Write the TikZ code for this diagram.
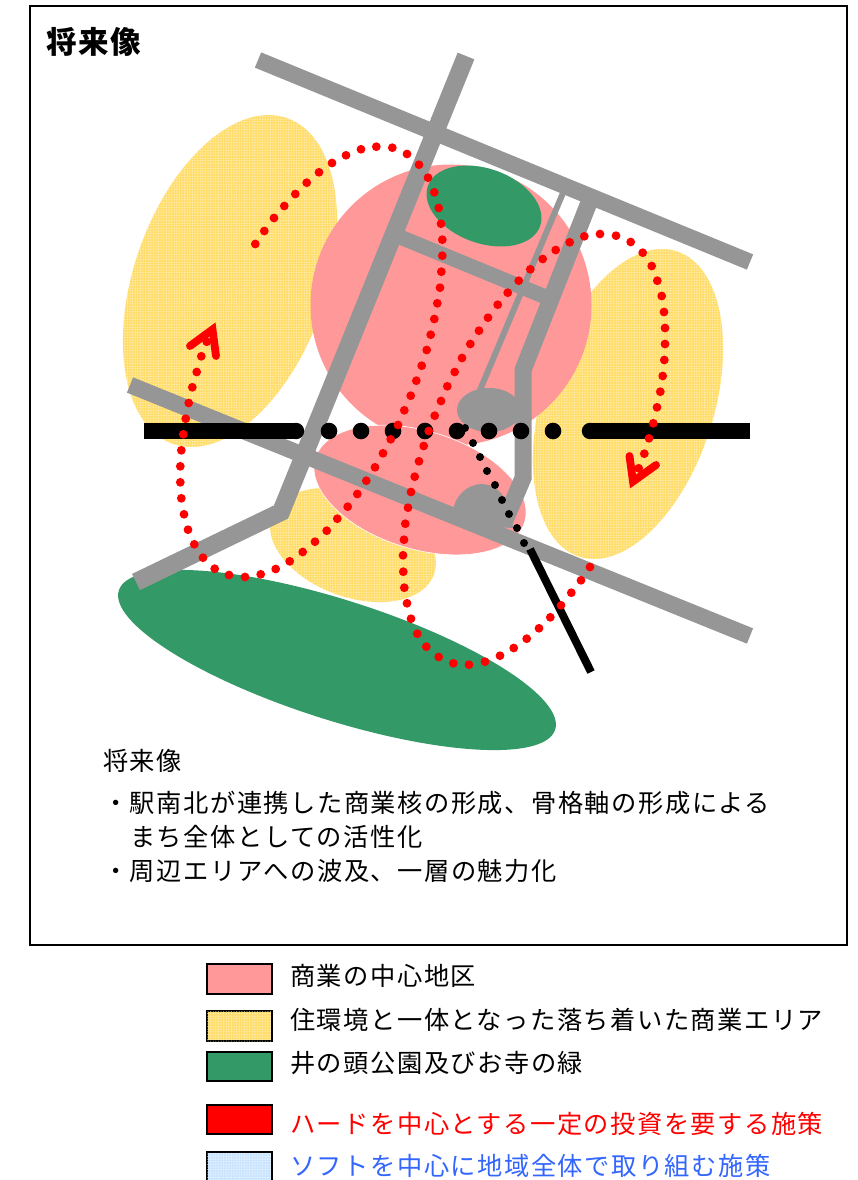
\documentclass[tikz,border=0pt]{standalone}
\usepackage{fontspec}
\setmainfont{Noto Sans CJK JP}[LetterSpace=6]
\usetikzlibrary{patterns.meta}
\definecolor{roadgray}{HTML}{969696}
\definecolor{pinkarea}{HTML}{FF9999}
\definecolor{greenarea}{HTML}{339966}
\definecolor{softblue}{HTML}{3366FF}
\definecolor{yellowbase}{HTML}{FFDD6E}
\definecolor{yellowdot}{HTML}{FFF3BF}
\definecolor{bluebase}{HTML}{CCE5FF}
\definecolor{bluedot}{HTML}{EEF6FF}
\tikzset{
  x=1pt,y=-1pt,
  road/.style={draw=roadgray,line width=#1,line join=miter,line cap=butt},
  road/.default=16pt,
  yellowfill/.style={fill=yellowbase,postaction={pattern={Dots[distance=2.6pt,radius=.7pt]},pattern color=yellowdot}},
  bluefill/.style={fill=bluebase,postaction={pattern={Dots[distance=2.6pt,radius=.7pt]},pattern color=bluedot}},
  legendbox/.style={draw=black,line width=2.2pt},
  txt/.style={anchor=west,inner sep=0pt,font=\fontsize{25.25}{25.25}\selectfont,text height=20pt,text depth=4pt},
  arrowbarb/.style={draw=red,line width=7.8pt,line cap=round,line join=miter,miter limit=10},
}
\begin{document}
\begin{tikzpicture}
\clip (0,0) rectangle (858,1180);
\fill[white] (0,0) rectangle (858,1180);
\draw[black,line width=2pt] (30,6) rectangle (847,945);
% areas
\path[yellowfill,rotate around={70.7:(230,281)}] (230,281) ellipse (172.6 and 96);
\path[yellowfill,rotate around={72.4:(628,404)}] (628,404) ellipse (160.3 and 85.8);
\path[yellowfill,rotate around={-20:(353,545)}] (353,545) ellipse (86.2 and 52);
\fill[pinkarea] (451,305) circle (140.5);
\filldraw[fill=pinkarea,draw=white,line width=.6pt,rotate around={-17:(420,490)}] (420,490) ellipse (109.4 and 59);
\fill[greenarea,rotate around={-17.7:(337,660)}] (337,660) ellipse (229 and 60);
\fill[greenarea,rotate around={-19.8:(484,206)}] (484,206) ellipse (59.6 and 37.3);
% station blobs
\fill[roadgray] (489,410) ellipse (32 and 22);
\fill[roadgray] (453,514) .. controls (453,497) and (467,484) .. (482,484) .. controls (497,484) and (510,497) .. (513,528) -- (480,526) -- cycle;
% roads
\draw[road=16.5pt] (258,60) -- (750,262);
\draw[road=16.5pt] (130,385) -- (750,636);
\draw[road=18pt] (466,56) -- (281,512) -- (136,582);
\draw[road=15pt] (400,237) -- (553,300);
\draw[road=17pt] (590,200) -- (523,370) -- (523,478) -- (503,525);
\draw[road=6pt] (563,193) -- (480,390);
% railway
\draw[black,line width=16.4pt] (144,431) -- (296,431);
\fill[black] (296,431) circle (8.2);
\draw[black,line width=16.4pt] (590,431) -- (750,431);
\fill[black] (590,431) circle (8.2);
\foreach \x in {329,361,393,425,457,489,521,553} \fill[black] (\x,431) circle (8.3);
\foreach \x/\y in {465/428,473/443,480/457,487/471,495/485,502/500,509/514,517/528,524/543} \fill[black] (\x,\y) circle (4);
\draw[black,line width=8pt] (530,549) -- (591,672);
% red dotted routes
\foreach \x/\y in {255.3/244,264.3/231,274/218,284.3/206,295.3/194,306.7/182.7,319/172.3,332/163,346/155.3,361/149.3,376.3/146.7,392.3/147.7,407/154,419/164.7,428/177.7,434.3/192.3,438.7/208,441/223.7,442.3/239.7,442.3/255.7,441.3/271.7,440/287.7,437.3/303.3,434.3/319,430.7/334.7,426.7/350,421.7/365.7,416.3/380.7,410.7/395.7,404.3/410.3,398/425,390.7/439.3,383/453.3,375/467.3,366.3/480.7,357.3/494,347.7/506.7,337.3/518.7,326.7/530.7,315/541.7,302.7/552,289.7/561.3,275.7/569,260.7/574.3,245/577,229/575,214.7/568.7,203/557.7,194.3/544.3,188/529.7,184/514.3,181.3/498.3,180.3/482.3,180.3/466.3,181.3/450.3,183.3/434.3,185.7/418.7,188.7/403,192.3/387.3,196.7/372,201.3/356.3,206.7/341.7}
  \fill[red] (\x,\y) circle (4.4);
\foreach \x/\y in {638.7/468.3,644.3/453.7,649/438.3,653.3/423.3,657/407.3,660.3/391.7,662.7/376,664.3/360,665/344,665/328,664/312,661.7/296,657.3/280.7,651.7/266,642.7/252.7,630.7/242,616/235.7,600/234,584.3/236.3,569.7/242.3,555.7/250,542.7/259,530.3/269.3,518.7/280.7,507.7/292.7,497.7/304.7,488/317.7,479/330.7,470.3/344,462/358,454.7/372,447.3/386.3,441/401,434.7/415.7,428.7/431,423.7/446,419/461.3,414.7/476.7,411/492,408/507.7,405.3/523.7,404/539.7,403/555.3,403.3/571.7,404.3/587.7,407/603.3,411/618.7,417.3/633.7,426.3/646.7,438.7/657,453.3/663.3,469/664.7,485/661.7,500/655.7,513.7/648,526.7/638.7,539/628.3,550.3/617.3,561/605.3,571.3/592.7,581/580.3,590/567}
  \fill[red] (\x,\y) circle (4.4);
\coordinate (a1) at (190,346);
\coordinate (a2) at (212.5,329.5);
\coordinate (a3) at (216,356);
\coordinate (b1) at (629.5,456);
\coordinate (b2) at (633,481.5);
\coordinate (b3) at (656,465);
\draw[arrowbarb] (a1) -- (a2) -- (a3);
\draw[arrowbarb] (b1) -- (b2) -- (b3);
% texts
\node[txt,font=\fontsize{30.5}{30.5}\selectfont\bfseries,text height=24pt,text depth=5pt] (title) at (46,44) {将来像};
\node[txt] (t1) at (103,762) {将来像};
\node[txt] (t2) at (103,804) {・駅南北が連携した商業核の形成、骨格軸の形成による};
\node[txt] (t3) at (130,838) {まち全体としての活性化};
\node[txt] (t4) at (103,872) {・周辺エリアへの波及、一層の魅力化};
% legend
\path[legendbox,fill=pinkarea] (207,964) rectangle (272,994);
\path[legendbox,yellowfill] (207,1011) rectangle (272,1041);
\path[legendbox,fill=greenarea] (207,1052) rectangle (272,1081);
\path[legendbox,fill=red] (207,1105) rectangle (272,1134);
\path[legendbox,bluefill] (207,1152) rectangle (272,1190);
\node[txt] (l1) at (290,977) {商業の中心地区};
\node[txt] (l2) at (290,1021) {住環境と一体となった落ち着いた商業エリア};
\node[txt] (l3) at (290,1064) {井の頭公園及びお寺の緑};
\node[txt,text=red] (l4) at (290,1125) {ハードを中心とする一定の投資を要する施策};
\node[txt,text=softblue] (l5) at (290,1167) {ソフトを中心に地域全体で取り組む施策};
\end{tikzpicture}
\end{document}
